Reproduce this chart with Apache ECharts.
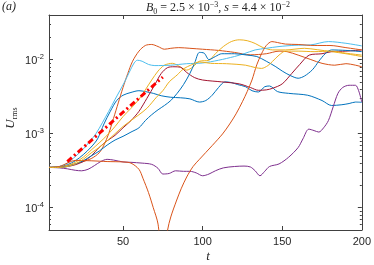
<!DOCTYPE html>
<html><head><meta charset="utf-8">
<script src="https://cdn.jsdelivr.net/npm/echarts@6/dist/echarts.min.js"></script>
<style>html,body{margin:0;padding:0;background:#fff}#c{width:374px;height:265px}</style>
</head><body><div id="c"></div>
<script>
// ---- axis ticks ----
const xTicks = [50, 100, 150, 200];
const yTicks = [1e-4, 1e-3, 1e-2];
const yMinorTicks = [6e-5,7e-5,8e-5,9e-5,2e-4,3e-4,4e-4,5e-4,6e-4,7e-4,8e-4,9e-4,2e-3,3e-3,4e-3,5e-3,6e-3,7e-3,8e-3,9e-3,2e-2,3e-2,4e-2];

// ---- series data: [t, U_rms] ----
const lightBlue = [[3.5,3.5e-4],[10,3.6e-4],[15,4.0e-4],[20,4.9e-4],[25,6.2e-4],[29,7.8e-4],[33,1.0e-3],[37,1.4e-3],[41,2.0e-3],[45,2.9e-3],[48,3.8e-3],[51,5.0e-3],[54,6.8e-3],[57,9.0e-3],[59,9.8e-3],[62,9.5e-3],[66,8.6e-3],[70,8.3e-3],[80,8.4e-3],[90,8.8e-3],[100,9.0e-3],[110,9.8e-3],[120,1.1e-2],[126,1.2e-2],[133,1.35e-2],[140,1.42e-2],[148,1.5e-2],[158,1.56e-2],[168,1.58e-2],[179,1.75e-2],[190,1.66e-2],[200,1.53e-2]];
const blue1 = [[3.5,3.5e-4],[10,3.6e-4],[15,3.8e-4],[20,4.3e-4],[25,5.2e-4],[30,6.6e-4],[34,8.5e-4],[38,1.35e-3],[42,2.0e-3],[46,2.8e-3],[50,3.3e-3],[55,3.6e-3],[60,3.8e-3],[64,3.7e-3],[69,3.5e-3],[74,3.25e-3],[80,3.1e-3],[86,3.05e-3],[92,2.95e-3],[98,2.67e-3],[102,2.8e-3],[106,3.3e-3],[110,4.2e-3],[114,5.0e-3],[118,4.9e-3],[122,4.6e-3],[127,4.3e-3],[131,3.8e-3],[135,3.65e-3],[139,4.3e-3],[142,4.4e-3],[147,3.7e-3],[154,3.5e-3],[166,3.3e-3],[175,2.8e-3],[181,2.4e-3],[187,2.45e-3],[192,2.55e-3],[196,2.67e-3],[200,2.65e-3]];
const orangeA = [[3.5,3.5e-4],[10,3.55e-4],[15,3.7e-4],[20,3.9e-4],[25,4.2e-4],[30,4.6e-4],[35,5.5e-4],[38,7.0e-4],[41,1.0e-3],[44,1.6e-3],[47,2.6e-3],[50,4.2e-3],[53,6.5e-3],[56,9.5e-3],[60,1.3e-2],[64,1.55e-2],[68,1.6e-2],[72,1.5e-2],[76,1.38e-2],[80,1.42e-2],[85,1.45e-2],[92,1.42e-2],[100,1.38e-2],[110,1.33e-2],[120,1.25e-2],[130,1.16e-2],[140,1.2e-2],[148,1.3e-2],[153,1.28e-2],[160,1.15e-2],[168,1.0e-2],[175,8.9e-3],[183,8.4e-3],[190,8.8e-3],[200,8.0e-3]];
const orangeB = [[3.5,3.5e-4],[10,3.6e-4],[15,4.0e-4],[20,4.35e-4],[30,4.3e-4],[40,4.2e-4],[50,4.15e-4],[55,4.0e-4],[60,3.3e-4],[62.5,2.5e-4],[66,1.6e-4],[69,1.0e-4],[72,6.0e-5],[75,1.5e-5],[78,5.0e-5],[80,7.5e-5],[83.5,1.23e-4],[86.5,1.8e-4],[90,2.6e-4],[94,3.6e-4],[98,4.5e-4],[106,6.9e-4],[112.5,9.9e-4],[117,1.35e-3],[121,1.85e-3],[125,2.7e-3],[128,3.7e-3],[131,5.3e-3],[134,8.5e-3],[137,1.2e-2],[140,1.55e-2],[143.5,1.75e-2],[147,1.7e-2],[152,1.62e-2],[160,1.6e-2],[170,1.55e-2],[180,1.55e-2],[190,1.45e-2],[200,1.35e-2]];
const yellow1 = [[3.5,3.5e-4],[10,3.55e-4],[15,3.7e-4],[20,4.1e-4],[25,4.8e-4],[30,6.0e-4],[35,7.5e-4],[40,9.5e-4],[45,1.25e-3],[50,1.7e-3],[55,2.2e-3],[60,2.9e-3],[64,3.9e-3],[68,5.3e-3],[72,7.0e-3],[76,8.4e-3],[81,8.9e-3],[85,8.2e-3],[90,7.2e-3],[94,8.0e-3],[98,9.5e-3],[104,9.8e-3],[108,1.2e-2],[113,1.5e-2],[118,1.75e-2],[123,1.85e-2],[128,1.8e-2],[133,1.65e-2],[138,1.45e-2],[144,1.35e-2],[152,1.35e-2],[164,1.42e-2],[172,1.36e-2],[181,1.28e-2],[190,1.2e-2],[200,1.1e-2]];
const yellow2 = [[3.5,3.5e-4],[10,3.5e-4],[15,3.6e-4],[20,3.9e-4],[25,4.5e-4],[30,5.5e-4],[35,6.5e-4],[40,8.0e-4],[45,1.0e-3],[50,1.25e-3],[55,1.5e-3],[60,1.8e-3],[65,2.2e-3],[71,3.1e-3],[75,3.8e-3],[79,5.0e-3],[84,6.2e-3],[88,7.5e-3],[93,8.5e-3],[98,9.3e-3],[105,8.9e-3],[115,8.8e-3],[127,8.4e-3],[133,7.8e-3],[137,7.6e-3],[141,8.3e-3],[144,9.5e-3],[148,1.15e-2],[152,1.3e-2],[160,1.3e-2],[170,1.28e-2],[181,1.3e-2],[190,1.22e-2],[200,1.15e-2]];
const darkRed = [[3.5,3.5e-4],[10,3.5e-4],[15,3.6e-4],[20,3.8e-4],[25,4.2e-4],[30,5.0e-4],[35,6.5e-4],[40,8.0e-4],[45,9.5e-4],[50,1.2e-3],[55,1.5e-3],[60,2.0e-3],[65,3.0e-3],[70,4.6e-3],[74,6.5e-3],[78,7.8e-3],[82,8.0e-3],[86,7.9e-3],[90,6.7e-3],[95,5.7e-3],[100,5.3e-3],[112,5.0e-3],[123,4.7e-3],[130,4.2e-3],[135,3.85e-3],[140,3.9e-3],[144,4.1e-3],[150,4.7e-3],[156,6.5e-3],[161,8.6e-3],[167,1.15e-2],[175,1.2e-2],[181,1.28e-2],[190,1.3e-2],[200,1.35e-2]];
const blue2 = [[3.5,3.5e-4],[10,3.5e-4],[15,3.6e-4],[20,3.9e-4],[25,4.3e-4],[30,5.0e-4],[35,5.8e-4],[40,7.0e-4],[45,8.2e-4],[50,9.2e-4],[55,1.05e-3],[60,1.2e-3],[64,1.5e-3],[68,1.8e-3],[72,2.1e-3],[76,2.4e-3],[80,2.8e-3],[84,3.5e-3],[88,4.6e-3],[92,6.5e-3],[95,9.0e-3],[98,1.25e-2],[101,1.22e-2],[104,1.0e-2],[108,1.1e-2],[112,1.2e-2],[120,1.2e-2],[128,1.15e-2],[134,1.1e-2],[140,9.5e-3],[146,8.0e-3],[150,7.0e-3],[155,6.1e-3],[160,5.6e-3],[164,6.0e-3],[169,7.3e-3],[173,9.5e-3],[177,1.2e-2],[181,1.35e-2],[190,1.33e-2],[200,1.28e-2]];
const purple = [[3.5,3.5e-4],[10,3.45e-4],[15,3.35e-4],[20,3.2e-4],[24,3.15e-4],[28,3.3e-4],[32,3.7e-4],[36,4.2e-4],[40,4.5e-4],[44,4.4e-4],[50,4.15e-4],[55,4.1e-4],[62,4.0e-4],[68,3.85e-4],[72,3.4e-4],[75,2.85e-4],[79,2.9e-4],[83,3.15e-4],[88,3.1e-4],[92,3.1e-4],[96,2.95e-4],[100,2.7e-4],[104,2.85e-4],[108,3.15e-4],[113,3.45e-4],[120,3.6e-4],[126,3.65e-4],[130,3.55e-4],[133,3.15e-4],[136,2.7e-4],[139,3.1e-4],[142,3.6e-4],[148,3.9e-4],[154,4.8e-4],[160,6.5e-4],[163,8.5e-4],[166.7,1.15e-3],[170,1.1e-3],[173,1.05e-3],[176,1.2e-3],[179,1.5e-3],[182,2.3e-3],[185,3.5e-3],[188,4.2e-3],[192,4.5e-3],[196,4.5e-3],[198,3.8e-3],[200,2.67e-3]];
const fitLine = [[15,4.2e-4],[75,5.8e-3]];

const AX = '#404040';
function lineSeries(data, color) {
  return {type:'line', data, showSymbol:false, smooth:0.3, xAxisIndex:0, yAxisIndex:0,
    lineStyle:{color, width:1}, itemStyle:{color}, silent:true, animation:false, z:2};
}
function supLabel(v){ return '{b|10}{s|' + Math.round(Math.log10(v)) + '}'; }
const labelRich = {b:{fontSize:11, fontFamily:'Liberation Sans', color:'#262626', lineHeight:14, verticalAlign:'bottom'},
                   s:{fontSize:7.5, fontFamily:'Liberation Sans', color:'#262626', lineHeight:9, verticalAlign:'top'}};

function xAx(pos, labels){
  return {type:'value', min:3.5, max:200, position:pos,
    axisLine:{show:true, onZero:false, lineStyle:{color:AX, width:1}},
    axisTick:{show:true, inside:true, length:4, customValues:xTicks, lineStyle:{color:AX}},
    axisLabel:{show:labels, customValues:xTicks, color:'#262626', fontSize:11, fontFamily:'Liberation Sans', margin:6},
    splitLine:{show:false}};
}
function yAx(pos, minor, labels){
  return {type:'log', logBase:10, min:5e-5, max:0.04, position:pos,
    axisLine:{show:!minor, onZero:false, lineStyle:{color:AX, width:1}},
    axisTick:{show:true, inside:true, length:minor?2:4, customValues:minor?yMinorTicks:yTicks, lineStyle:{color:AX}},
    axisLabel:{show:labels, customValues:yTicks, formatter:supLabel, rich:labelRich, margin:5},
    splitLine:{show:false}, minorTick:{show:false}};
}

const chart = echarts.init(document.getElementById('c'), null, {renderer:'canvas'});
chart.setOption({
  animation:false,
  backgroundColor:'#fff',
  grid:{left:49, right:11, top:15, bottom:35, containLabel:false},
  xAxis:[xAx('bottom', true), xAx('top', false)],
  yAxis:[yAx('left', false, true), yAx('left', true, false), yAx('right', false, false), yAx('right', true, false)],
  series:[
    lineSeries(blue1, '#0072BD'),
    lineSeries(orangeA, '#D95319'),
    lineSeries(yellow1, '#EDB120'),
    lineSeries(purple, '#7E2F8E'),
    lineSeries(lightBlue, '#4DBEEE'),
    lineSeries(darkRed, '#A2142F'),
    lineSeries(blue2, '#0072BD'),
    lineSeries(orangeB, '#D95319'),
    lineSeries(yellow2, '#EDB120'),
    {type:'line', data:fitLine, showSymbol:false, xAxisIndex:0, yAxisIndex:0, z:5,
     lineStyle:{color:'#FF0000', width:3, type:[6,3,2,3]}, silent:true}
  ],
  graphic:[
    {type:'text', left:2, top:1, style:{text:'(a)', font:'italic 12px "Liberation Serif"', fill:'#262626'}},
    {type:'text', x:218, y:8, style:{
      text:'{i|B}{sb|0}{r| = 2.5 × 10}{sp|−3}{r|, }{i|s}{r| = 4.4 × 10}{sp|−2}',
      align:'center', verticalAlign:'middle',
      rich:{i:{font:'italic 12px "Liberation Serif"', fill:'#262626', lineHeight:15},
            r:{font:'12px "Liberation Serif"', fill:'#262626', lineHeight:15},
            sp:{font:'8px "Liberation Serif"', fill:'#262626', lineHeight:9, verticalAlign:'top'},
            sb:{font:'8px "Liberation Serif"', fill:'#262626', lineHeight:9, verticalAlign:'bottom'}}}},
    {type:'text', x:11, y:118, rotation:Math.PI/2, style:{
      text:'{i|U}{sb|rms}', align:'center', verticalAlign:'middle',
      rich:{i:{font:'italic 13px "Liberation Serif"', fill:'#262626', lineHeight:15},
            sb:{font:'8px "Liberation Serif"', fill:'#262626', lineHeight:9, verticalAlign:'bottom'}}}},
    {type:'text', x:208, y:257, style:{text:'t', font:'italic 13px "Liberation Serif"', fill:'#262626', align:'center', verticalAlign:'middle'}}
  ]
});
</script></body></html>
